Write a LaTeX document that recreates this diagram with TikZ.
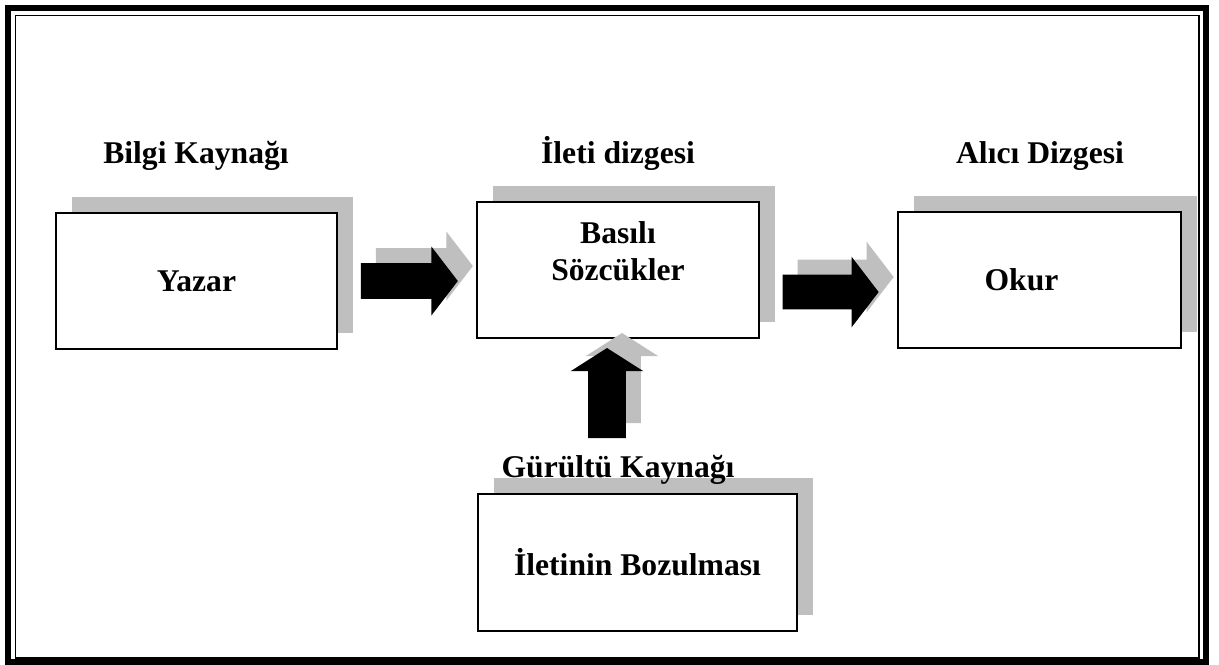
\documentclass[tikz,border=0pt]{standalone}
\usepackage{fontspec}
\setmainfont{Liberation Serif}
\usetikzlibrary{shapes.arrows,shadows}
\tikzset{
  box/.style={rectangle, draw=black, line width=0.9pt, fill=white, minimum width=5.64cm, minimum height=2.72cm, inner sep=0pt,
    drop shadow={shadow xshift=0.32cm, shadow yshift=0.32cm, fill=black!25, opacity=1}},
  blockarrow/.style={single arrow, fill=black, inner xsep=0pt, inner ysep=0.35cm, minimum height=1.94cm,
    single arrow head extend=0.33cm, single arrow tip angle=105,
    drop shadow={shadow xshift=0.3cm, shadow yshift=0.3cm, fill=black!25, opacity=1}},
  heading/.style={font=\fontsize{18}{21}\selectfont\bfseries, inner sep=0pt, anchor=base},
  every node/.append style={font=\fontsize{18}{21}\selectfont\bfseries}
}
\begin{document}
\begin{tikzpicture}[x=0.02cm, y=-0.02cm]
  \useasboundingbox (0,0) rectangle (1219,664);
  % frame
  \draw[line width=3.4pt] (8,8) rectangle (1206,662);
  \draw[line width=1.1pt] (15.5,15.5) rectangle (1199,658);

  % boxes
  \node[box, minimum width=5.62cm] (yazar) at (196.5,281) {Yazar};
  \node[box, label={[align=center, yshift=0.38cm]center:Basılı\\Sözcükler}] (basili) at (618,270) {};
  \node[box, minimum width=5.66cm] (okur) at (1039.5,280) {Okur\hspace*{0.72cm}};
  \node[box, minimum width=6.38cm, minimum height=2.74cm] (bozulma) at (637.5,562.5) {İletinin Bozulması};

  % headings
  \node[heading] (kaynak) at (196,163) {Bilgi Kaynağı};
  \node[heading] (ileti) at (618,163) {İleti dizgesi};
  \node[heading] (alici) at (1040,163) {Alıcı Dizgesi};
  \node[heading] (gurultu) at (618,477) {Gürültü Kaynağı};

  % block arrows
  \node[blockarrow] (ok1) at (402.5,281) {};
  \node[blockarrow, minimum height=1.92cm, inner ysep=0.34cm, single arrow head extend=0.36cm] (ok2) at (824,292) {};
  \node[blockarrow, shape border rotate=90, minimum height=1.8cm, inner ysep=0pt, inner xsep=0.37cm,
    single arrow head extend=0.35cm, single arrow tip angle=115] (ok3) at (607,399) {};
\end{tikzpicture}
\end{document}
